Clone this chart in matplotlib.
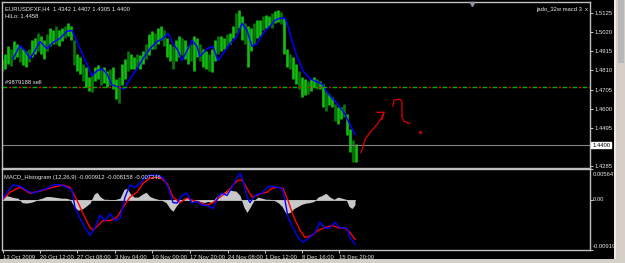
import numpy as np
import matplotlib
matplotlib.use("Agg")
import matplotlib.pyplot as plt
from matplotlib.patches import Rectangle
from matplotlib.lines import Line2D
from matplotlib.transforms import blended_transform_factory

plt.rcParams['font.family'] = ['Liberation Sans', 'DejaVu Sans']

# ---------------- data (x = time position on the chart's time scale) ----------------
bar_step = 3
bar_start = 2
highs = [1.4875, 1.4903, 1.4947, 1.4930, 1.4969, 1.4958, 1.4942, 1.4930, 1.4919, 1.4930,
         1.4975, 1.4986, 1.5014, 1.4997, 1.4975, 1.5008, 1.5042, 1.5030, 1.5053, 1.5030,
         1.5042, 1.5053, 1.5069, 1.5053, 1.4975, 1.4903, 1.4886, 1.4847, 1.4830, 1.4775,
         1.4791, 1.4830, 1.4842, 1.4819, 1.4830, 1.4808, 1.4819, 1.4830, 1.4764, 1.4775,
         1.4847, 1.4875, 1.4919, 1.4903, 1.4886, 1.4903, 1.4897, 1.4919, 1.4958, 1.5008,
         1.5025, 1.5014, 1.5042, 1.5053, 1.5030, 1.4986, 1.4958, 1.4942, 1.4975, 1.4997,
         1.4986, 1.4975, 1.4942, 1.4958, 1.4997, 1.4986, 1.4958, 1.4930, 1.4919, 1.4903,
         1.4930, 1.4975, 1.4997, 1.4997, 1.4986, 1.5008, 1.5014, 1.5053, 1.5125, 1.5142,
         1.5108, 1.5069, 1.5053, 1.5042, 1.5069, 1.5086, 1.5086, 1.5108, 1.5114, 1.5108,
         1.5125, 1.5136, 1.5142, 1.5131, 1.5097, 1.4930, 1.4903, 1.4886, 1.4847, 1.4808,
         1.4775, 1.4764, 1.4753, 1.4764, 1.4775, 1.4764, 1.4753, 1.4736, 1.4697, 1.4680,
         1.4664, 1.4625, 1.4608, 1.4608, 1.4625, 1.4569, 1.4486, 1.4430, 1.4407]
lows = [1.4808, 1.4819, 1.4847, 1.4836, 1.4875, 1.4886, 1.4858, 1.4842, 1.4830, 1.4858,
        1.4886, 1.4903, 1.4919, 1.4903, 1.4875, 1.4919, 1.4942, 1.4953, 1.4958, 1.4947,
        1.4969, 1.4986, 1.4997, 1.4975, 1.4842, 1.4808, 1.4791, 1.4753, 1.4719, 1.4697,
        1.4691, 1.4753, 1.4764, 1.4730, 1.4741, 1.4719, 1.4730, 1.4708, 1.4652, 1.4630,
        1.4730, 1.4764, 1.4808, 1.4819, 1.4819, 1.4830, 1.4819, 1.4847, 1.4875, 1.4897,
        1.4930, 1.4930, 1.4958, 1.4975, 1.4942, 1.4886, 1.4864, 1.4819, 1.4864, 1.4886,
        1.4897, 1.4875, 1.4847, 1.4864, 1.4808, 1.4886, 1.4864, 1.4830, 1.4819, 1.4808,
        1.4803, 1.4864, 1.4903, 1.4919, 1.4930, 1.4942, 1.4953, 1.4986, 1.5014, 1.5042,
        1.4975, 1.4958, 1.4830, 1.4919, 1.4958, 1.4986, 1.4997, 1.5030, 1.5042, 1.5053,
        1.5042, 1.5069, 1.5075, 1.5064, 1.4903, 1.4830, 1.4819, 1.4764, 1.4736, 1.4708,
        1.4664, 1.4675, 1.4680, 1.4697, 1.4719, 1.4708, 1.4708, 1.4608, 1.4586, 1.4619,
        1.4608, 1.4530, 1.4513, 1.4541, 1.4552, 1.4458, 1.4363, 1.4308, 1.4305]

hilo_x = [13, 20, 25, 30, 35, 40, 47, 53, 60, 67, 72, 77, 83, 88, 92, 97, 102, 107, 112, 118,
          124, 130, 137, 143, 150, 157, 163, 168, 173, 178, 182, 187, 192, 197, 200, 207, 213,
          218, 223, 230, 237, 242, 247, 252, 257, 263, 270, 275, 280, 285, 288, 292, 297, 303,
          310, 317, 322, 327, 333, 340, 345, 350, 355]
hilo = [1.4875, 1.4947, 1.4919, 1.4875, 1.4919, 1.4969, 1.4930, 1.4964, 1.4986, 1.5025,
        1.5030, 1.4969, 1.4892, 1.4830, 1.4780, 1.4808, 1.4819, 1.4791, 1.4730, 1.4719,
        1.4708, 1.4764, 1.4819, 1.4875, 1.4930, 1.4969, 1.4986, 1.5014, 1.4958, 1.4919,
        1.4864, 1.4919, 1.4975, 1.4942, 1.4886, 1.4930, 1.4942, 1.4864, 1.4903, 1.4958,
        1.4997, 1.5069, 1.5030, 1.4942, 1.4958, 1.5014, 1.5053, 1.5086, 1.5097, 1.5097,
        1.5053, 1.4975, 1.4886, 1.4808, 1.4764, 1.4747, 1.4736, 1.4691, 1.4652, 1.4608,
        1.4569, 1.4513, 1.4458]

macd_x = [2, 7, 13, 20, 27, 33, 40, 47, 53, 60, 67, 72, 75, 80, 85, 90, 95, 100, 105, 110,
          115, 120, 125, 130, 135, 140, 145, 150, 157, 163, 168, 173, 177, 182, 187, 192, 197,
          202, 207, 213, 218, 222, 227, 232, 237, 240, 243, 247, 250, 253, 257, 262, 267, 272,
          277, 282, 285, 288, 293, 298, 303, 308, 315, 320, 325, 330, 335, 340, 347, 350, 355]
macd = [-0.0001, 0.0014, 0.0027, 0.0025, 0.0017, 0.0012, 0.0017, 0.0021, 0.0027, 0.0028,
        0.0023, 0.0017, -0.0014, -0.0034, -0.0051, -0.0065, -0.0051, -0.0028, -0.0038, -0.0025,
        -0.0038, -0.0034, 0.0005, 0.0027, 0.0023, 0.0030, 0.0041, 0.0045, 0.0045, 0.0041,
        0.0023, -0.0005, -0.0006, 0.0008, 0.0012, -0.0006, -0.0003, -0.0010, -0.0010, -0.0016,
        0.0005, 0.0012, 0.0008, 0.0023, 0.0041, 0.0049, 0.0036, 0.0005, -0.0005, 0.0003,
        0.0010, 0.0012, 0.0023, 0.0025, 0.0023, 0.0021, -0.0001, -0.0032, -0.0051, -0.0069,
        -0.0078, -0.0071, -0.0060, -0.0041, -0.0052, -0.0051, -0.0041, -0.0051, -0.0052, -0.0069,
        -0.008158]

signal_x = [2, 10, 20, 30, 40, 53, 63, 70, 77, 83, 90, 93, 98, 103, 110, 117, 123, 130, 137,
            143, 150, 160, 167, 173, 180, 187, 193, 200, 207, 213, 220, 227, 233, 238, 242, 247,
            252, 257, 262, 267, 272, 278, 283, 288, 293, 300, 305, 312, 318, 325, 332, 338, 345,
            350, 355]
signal = [-0.0001, 0.0014, 0.0023, 0.0012, 0.0016, 0.0023, 0.0027, 0.0023, -0.0001, -0.0025,
          -0.0051, -0.0056, -0.0047, -0.0038, -0.0038, -0.0032, -0.0014, 0.0005, 0.0014, 0.0030,
          0.0040, 0.0041, 0.0030, 0.0005, -0.0005, 0.0003, -0.0001, -0.0005, -0.0010, -0.0005,
          0.0005, 0.0014, 0.0027, 0.0036, 0.0036, 0.0021, 0.0005, 0.0008, 0.0012, 0.0014,
          0.0021, 0.0023, 0.0021, -0.0001, -0.0028, -0.0056, -0.0069, -0.0065, -0.0056, -0.0051,
          -0.0047, -0.0051, -0.0052, -0.0060, -0.007246]

hist_x = [2, 6, 10, 14, 18, 22, 26, 30, 34, 38, 42, 46, 50, 54, 58, 62, 66, 70, 74, 78, 82,
          86, 90, 94, 97, 100, 104, 108, 112, 116, 120, 124, 127, 130, 134, 138, 142, 146, 150,
          154, 158, 162, 166, 170, 173, 176, 180, 184, 188, 192, 196, 200, 204, 208, 212, 216,
          220, 224, 228, 232, 236, 240, 244, 247, 250, 254, 258, 262, 266, 270, 274, 278, 282,
          286, 290, 294, 298, 302, 306, 310, 314, 318, 322, 326, 330, 334, 338, 342, 346, 349,
          352, 355]
hist = [0.0, 0.0008, 0.0006, 0.0004, 0.0003, -0.0005, -0.0006, -0.0005, -0.0003, 0.0001,
        0.0003, 0.0006, 0.0006, 0.0005, 0.0004, 0.0003, 0.0003, 0.0001, -0.0012, -0.0019,
        -0.0017, -0.0012, -0.0006, 0.0010, 0.0014, 0.0006, 0.0001, 0.0001, -0.0001, 0.0001,
        0.0003, 0.0019, 0.0021, 0.0012, 0.0005, 0.0005, 0.0010, 0.0014, 0.0006, 0.0003,
        0.0001, -0.0001, -0.0005, -0.0016, -0.0021, -0.0012, -0.0003, 0.0003, 0.0005, -0.0003,
        0.0001, -0.0003, -0.0005, -0.0003, -0.0005, 0.0005, 0.0012, 0.0014, 0.0019, 0.0017,
        0.0016, 0.0008, -0.0014, -0.0023, -0.0014, -0.0001, 0.0005, 0.0003, 0.0001, 0.0001,
        -0.0001, -0.0005, -0.0012, -0.0025, -0.0023, -0.0016, -0.0012, -0.0008, -0.0006, -0.0005,
        -0.0003, 0.0005, 0.0008, 0.0012, 0.0005, 0.0001, 0.0005, 0.0003, 0.0001, -0.0012,
        -0.0016, -0.000912]

price_ticks = [1.5125, 1.5020, 1.4915, 1.4810, 1.4705, 1.4600, 1.4495, 1.4285]
bid_price = 1.4400
order_price = 1.4719
order_label = "#9879188 sell"
macd_ticks = [0.005647, 0.0, -0.00919]
macd_tick_labels = ["0.005647", "0.00", "-0.00919"]
time_ticks = [3, 40, 77, 115, 152, 190, 228, 265, 302, 339]
time_labels = ["13 Oct 2009", "20 Oct 12:00", "27 Oct 08:00", "3 Nov 04:00", "10 Nov 00:00",
               "17 Nov 20:00", "24 Nov 08:00", "1 Dec 12:00", "8 Dec 16:00", "15 Dec 20:00"]

# hand-drawn annotation (chart coordinates)
arrow_x = [361, 363, 365, 370, 377, 382, 384]
arrow_y = [1.4358, 1.4391, 1.4430, 1.4469, 1.4513, 1.4552, 1.4580]
head_x = [377, 384, 382]
head_y = [1.4580, 1.4580, 1.4541]
squig_x = [393, 394, 400, 402, 402, 404, 410]
squig_y = [1.4614, 1.4647, 1.4652, 1.4636, 1.4552, 1.4530, 1.4519]
dot_x, dot_y = 420, 1.4474

# ---------------- figure ----------------
W, H = 625, 263
fig = plt.figure(figsize=(W / 100, H / 100), dpi=100, facecolor='black')


def rect(x0, y0, x1, y1):
    return [x0 / W, 1 - y1 / H, (x1 - x0) / W, (y1 - y0) / H]


ax1 = fig.add_axes(rect(2, 2, 590, 168))
ax2 = fig.add_axes(rect(2, 169, 590, 250))
border = '#c0c0c0'
txt = '#e8e8e8'
fs = 4.2

for ax in (ax1, ax2):
    ax.set_facecolor('black')
    ax.set_xlim(2, 590)
    for sp in ax.spines.values():
        sp.set_color(border)
        sp.set_linewidth(1.0)

# main panel
ax1.set_ylim(1.4274, 1.5186)
bar_x = bar_start + bar_step * np.arange(len(highs))
cols = ['#10c010' if i % 3 else '#087808' for i in range(len(highs))]
ax1.vlines(bar_x, lows, highs, colors=cols, linewidth=1.9)
ax1.plot(hilo_x, hilo, color='#0000ff', lw=1.1)
ax1.axhline(order_price, color='#00b000', lw=1.0, ls=(0, (3.5, 3.7)))
ax1.axhline(order_price, color='#ff0000', lw=1.0, ls=(2.6, (1.6, 5.6)))
ax1.axhline(bid_price, color='#808080', lw=0.8)
ax1.text(5, order_price + 0.0012, order_label, color=txt, fontsize=fs, va='bottom', ha='left')

red = '#e00000'
ax1.plot(arrow_x, arrow_y, color=red, lw=0.9)
ax1.plot(head_x, head_y, color=red, lw=0.9)
ax1.plot(squig_x, squig_y, color=red, lw=0.9)
ax1.plot([dot_x], [dot_y], 's', color=red, ms=1.0)

ax1.set_xticks([])
ax1.yaxis.tick_right()
ax1.set_yticks(price_ticks)
ax1.set_yticklabels([f"{p:.4f}" for p in price_ticks])
ax1.tick_params(axis='y', colors=txt, labelsize=fs, length=2, width=0.6, pad=1)
trans1 = blended_transform_factory(ax1.transAxes, ax1.transData)
ax1.text(1.0035, bid_price, f"{bid_price:.4f}", transform=trans1, fontsize=fs, color='black',
         va='center', ha='left',
         bbox=dict(boxstyle='square,pad=0.12', fc='white', ec='white'))

ax1.text(0.005, 0.975, "EURUSDFXF,H4  1.4342 1.4407 1.4305 1.4400", transform=ax1.transAxes,
         color=txt, fontsize=fs, va='top', ha='left')
ax1.text(0.005, 0.928, "HiLo: 1.4458", transform=ax1.transAxes,
         color=txt, fontsize=fs, va='top', ha='left')
ax1.text(0.986, 0.955, "jado_32w macd 3", transform=ax1.transAxes,
         color=txt, fontsize=fs, va='center', ha='right')
ax1.text(0.994, 0.955, "x", transform=ax1.transAxes,
         color=txt, fontsize=fs, va='center', ha='center')

# MACD panel
ax2.set_ylim(-0.00919, 0.005647)
ax2.fill_between(hist_x, 0, hist, color='#c8c8c8', lw=0)
ax2.plot(hist_x, np.zeros(len(hist_x)), color='#c8c8c8', lw=0.6)
ax2.plot(signal_x, signal, color='#ff0000', lw=1.0)
ax2.plot(macd_x, macd, color='#0000ff', lw=1.0)
ax2.yaxis.tick_right()
ax2.set_yticks(macd_ticks)
ax2.set_yticklabels([])
ax2.tick_params(axis='y', colors=txt, length=2, width=0.6)
ax2.text(1.004, 0.965, macd_tick_labels[0], transform=ax2.transAxes, color=txt, fontsize=fs,
         va='top', ha='left')
trans2 = blended_transform_factory(ax2.transAxes, ax2.transData)
ax2.text(1.004, macd_ticks[1], macd_tick_labels[1], transform=trans2, color=txt, fontsize=fs,
         va='center', ha='left')
ax2.text(1.004, 0.01, macd_tick_labels[2], transform=ax2.transAxes, color=txt, fontsize=fs,
         va='bottom', ha='left')
ax2.text(0.004, 0.93, "MACD_Histogram (12,26,9) -0.000912 -0.008158 -0.007246",
         transform=ax2.transAxes, color=txt, fontsize=fs, va='top', ha='left')

ax2.set_xticks(time_ticks)
ax2.set_xticklabels(time_labels)
for lab in ax2.get_xticklabels():
    lab.set_horizontalalignment('left')
ax2.tick_params(axis='x', colors=txt, labelsize=fs, length=2, width=0.6, pad=1.5)

# window chrome: scroll bar at right, bottom strip, top marker
fig.patches.append(Rectangle((614 / W, 0), 11 / W, 1, transform=fig.transFigure,
                             facecolor='#d4d0c8', edgecolor='none'))
fig.patches.append(Rectangle((614 / W, 0), 1.5 / W, 1, transform=fig.transFigure,
                             facecolor='#f4e8e8', edgecolor='none'))
fig.patches.append(Rectangle((618 / W, 1 - 63 / H), 6 / W, 63 / H, transform=fig.transFigure,
                             facecolor='#b8b8b8', edgecolor='none'))
fig.patches.append(Rectangle((0, 0), 1, 4 / H, transform=fig.transFigure,
                             facecolor='#d4d0c8', edgecolor='none'))
fig.lines.append(Line2D([472 / W], [1 - 4 / H], marker='v', color='#9090a0', ms=3,
                        transform=fig.transFigure))

fig.savefig("out.png", dpi=100, facecolor='black')
